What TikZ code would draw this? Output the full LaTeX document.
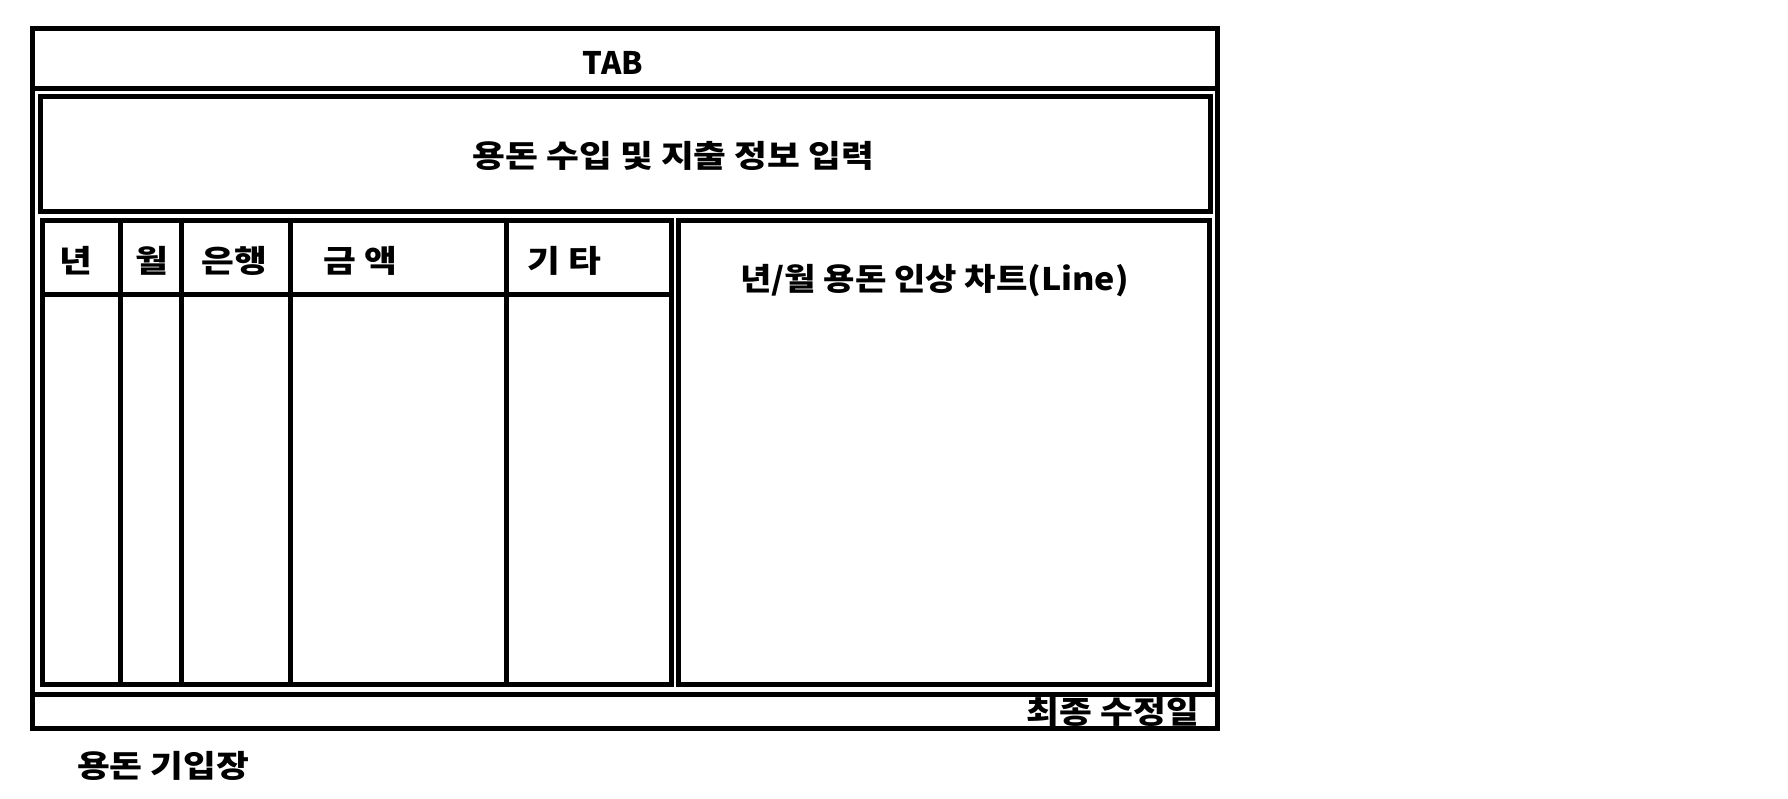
\documentclass[tikz,border=0pt]{standalone}
\usepackage{fontspec}
\setmainfont{Noto Sans CJK KR}
\newfontfamily\krwide{Noto Sans CJK KR}[FakeStretch=1.15]
\newfontfamily\krmid{Noto Sans CJK KR}[FakeStretch=1.10]
\begin{document}
\begin{tikzpicture}[x=1pt,y=-1pt,
  frame/.style={draw=black,line width=5pt},
  lbl/.style={inner sep=0pt,font=\fontsize{31}{36}\selectfont\bfseries},
  klbl/.style={inner sep=0pt,font=\krwide\fontsize{31}{36}\selectfont\bfseries},
  mlbl/.style={inner sep=0pt,font=\krmid\fontsize{31}{36}\selectfont\bfseries}]
\useasboundingbox[fill=white] (0,0) rectangle (1788,798);
% outer frame and tab bar
\draw[frame] (32,28.5) rectangle (1217,728.5);
\draw[frame] (32,28.5) rectangle (1217,88.5);
% input box
\draw[frame] (40,96.5) rectangle (1210,211.5);
% table
\draw[frame] (42.5,220.5) rectangle (671,684.5);
\draw[frame] (42.5,294.5) -- (671,294.5);
\foreach \cx in {120.5,181,290,506} \draw[frame] (\cx,220.5) -- (\cx,684.5);
% chart box
\draw[frame] (678,220.5) rectangle (1209,684.5);
% footer
\draw[frame] (32,694.5) rectangle (1217,728.5);
% texts
\node[lbl] (tab) at (613,63) {TAB};
\node[klbl] (input) at (673.5,156) {용돈 수입 및 지출 정보 입력};
\node[klbl] (hy) at (76,261) {년};
\node[klbl] (hm) at (152,261) {월};
\node[klbl] (hb) at (234,261) {은행};
\node[klbl] (ha) at (360,261) {금 액};
\node[klbl] (he) at (564,261) {기 타};
\node[mlbl] (chart) at (934.5,280.5) {년/월 용돈 인상 차트(Line)};
\node[klbl,anchor=east] (mod) at (1199,712) {최종 수정일};
\node[klbl,anchor=west] (title) at (77,766) {용돈 기입장};
\end{tikzpicture}
\end{document}
